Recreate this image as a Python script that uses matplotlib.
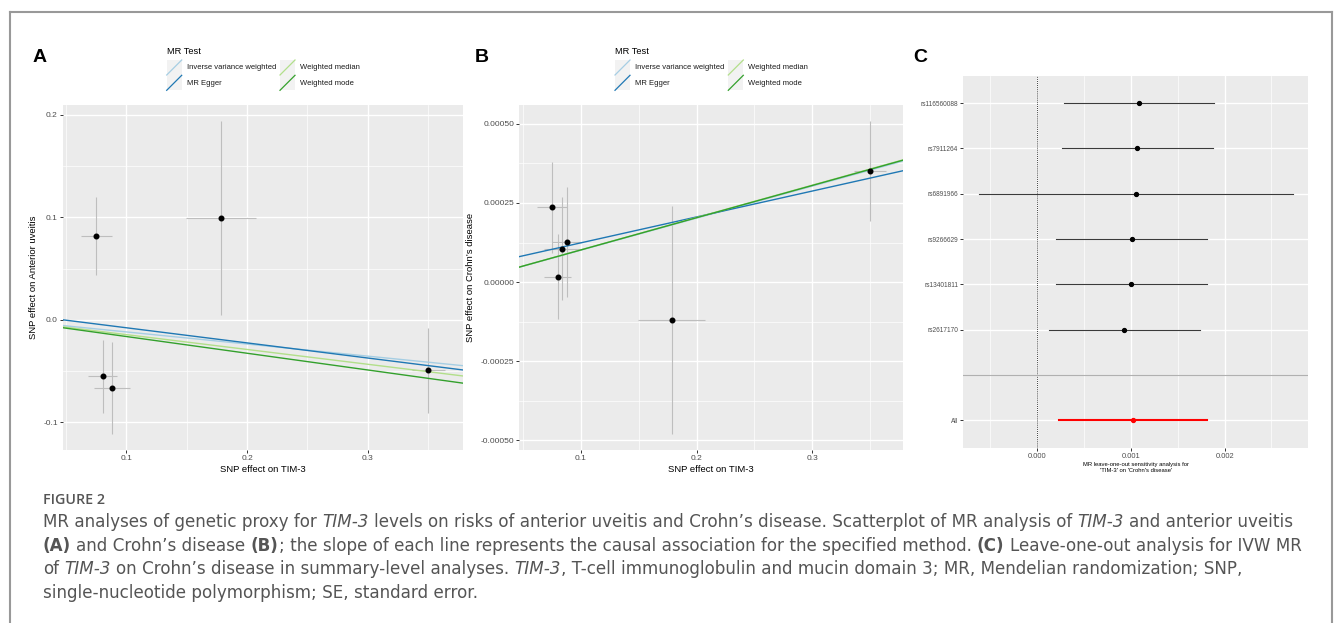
import numpy as np
import matplotlib
matplotlib.use('Agg')
import matplotlib.pyplot as plt
from matplotlib.lines import Line2D
from matplotlib.patches import Rectangle
from matplotlib.ticker import MultipleLocator

W, H = 1336, 623

# panel A: TIM-3 -> anterior uveitis
a_x = [0.0752, 0.1783, 0.0802, 0.0882, 0.3502]
a_x_se = [0.0127, 0.0292, 0.0117, 0.0149, 0.0138]
a_y = [0.0819, 0.0994, -0.0552, -0.0669, -0.0494]
a_y_se = [0.0382, 0.0949, 0.0357, 0.0448, 0.0418]

methods = ['Inverse variance weighted', 'MR Egger', 'Weighted median', 'Weighted mode']
method_colors = ['#A6CEE3', '#1F78B4', '#B2DF8A', '#33A02C']
a_intercepts = [0.0, 0.0070, 0.0, 0.0]
a_slopes = [-0.118, -0.1475, -0.1445, -0.163]

# panel B: TIM-3 -> Crohn's disease
b_x = [0.0747, 0.0833, 0.0879, 0.0799, 0.1784, 0.3501]
b_x_se = [0.0130, 0.0151, 0.0133, 0.0118, 0.0290, 0.0138]
b_y = [0.000236, 0.000106, 0.000127, 0.0000168, -0.000120, 0.000352]
b_y_se = [0.000145, 0.000162, 0.000173, 0.000135, 0.000361, 0.000158]
b_intercepts = [0.0, 0.0000424, 0.0, 0.0]
b_slopes = [0.00101, 0.000817, 0.00102, 0.001017]

# panel C: leave-one-out
c_labels = ['rs116560088', 'rs7911264', 'rs6891966', 'rs9266629', 'rs13401811', 'rs2617170', 'All']
c_b = [0.001089, 0.001067, 0.00105, 0.001007, 0.001, 0.000925, 0.001021]
c_lo = [0.000288, 0.00026, -0.000622, 0.000203, 0.000196, 0.000125, 0.000235]
c_hi = [0.001889, 0.001878, 0.002726, 0.001811, 0.001808, 0.001733, 0.001808]

plt.rcParams['font.family'] = ['Liberation Sans', 'DejaVu Sans']
plt.rcParams['axes.unicode_minus'] = False

fig = plt.figure(figsize=(W / 100, H / 100), dpi=100)
fig.patch.set_facecolor('white')


def fx(px):
    return px / W


def fy(py):
    return 1 - py / H


def px_axes(left, top, right, bottom):
    return fig.add_axes([fx(left), fy(bottom), (right - left) / W, (bottom - top) / H])


def gg_style(ax, labelsize=6.0):
    ax.set_facecolor('#EBEBEB')
    for s in ax.spines.values():
        s.set_visible(False)
    ax.set_axisbelow(True)
    ax.grid(which='major', color='white', lw=1.0)
    ax.grid(which='minor', color='white', lw=0.5)
    ax.tick_params(which='major', length=2.2, width=0.7, color='#333333',
                   labelcolor='#4D4D4D', labelsize=labelsize, pad=1.5)
    ax.tick_params(which='minor', length=0)


def scatter_panel(ax, x, xse, y, yse, intercepts, slopes):
    ax.errorbar(x, y, yerr=yse, fmt='none', ecolor='#BEBEBE', elinewidth=0.8, capsize=0)
    ax.errorbar(x, y, xerr=xse, fmt='none', ecolor='#BEBEBE', elinewidth=0.8, capsize=0)
    ax.plot(x, y, 'o', color='black', ms=3.3, zorder=3)
    ax.margins(0.05)
    ax.autoscale_view()
    xl, yl = ax.get_xlim(), ax.get_ylim()
    for b0, b1, c in zip(intercepts, slopes, method_colors):
        ax.axline((0, b0), slope=b1, color=c, lw=1.0, zorder=2)
    # abline must not widen the ranges (as in ggplot)
    ax.set_xlim(xl)
    ax.set_ylim(yl)
    ax.set_xlabel('SNP effect on TIM-3', fontsize=6.8, labelpad=2)


# ---- A ----
axA = px_axes(63, 105, 463, 450)
gg_style(axA)
scatter_panel(axA, a_x, a_x_se, a_y, a_y_se, a_intercepts, a_slopes)
axA.xaxis.set_major_locator(MultipleLocator(0.1))
axA.xaxis.set_minor_locator(MultipleLocator(0.05))
axA.yaxis.set_major_locator(MultipleLocator(0.1))
axA.yaxis.set_minor_locator(MultipleLocator(0.05))
axA.set_ylabel('SNP effect on Anterior uveitis', fontsize=6.8, labelpad=4)

# ---- B ----
axB = px_axes(519.3, 105, 903.3, 450)
gg_style(axB)
scatter_panel(axB, b_x, b_x_se, b_y, b_y_se, b_intercepts, b_slopes)
axB.xaxis.set_major_locator(MultipleLocator(0.1))
axB.xaxis.set_minor_locator(MultipleLocator(0.05))
axB.yaxis.set_major_locator(MultipleLocator(0.00025))
axB.yaxis.set_minor_locator(MultipleLocator(0.000125))
axB.yaxis.set_major_formatter(matplotlib.ticker.FuncFormatter(lambda v, p: '%.5f' % v))
axB.set_ylabel('SNP effect on Crohn\u2019s disease', fontsize=6.8, labelpad=4)

# ---- C ----
axC = px_axes(963.3, 76, 1308.3, 447.5)
gg_style(axC, labelsize=5.0)
order = ['All', ''] + c_labels[:-1][::-1]
pos = {lab: i + 1 for i, lab in enumerate(order)}
for lab, b, lo, hi in zip(c_labels, c_b, c_lo, c_hi):
    y = pos[lab]
    if lab == 'All':
        axC.plot([lo, hi], [y, y], color='red', lw=1.5, zorder=3)
        axC.plot([b], [y], 'o', color='red', ms=2.8, zorder=4)
    else:
        axC.plot([lo, hi], [y, y], color='#3A3A3A', lw=0.8, zorder=3)
        axC.plot([b], [y], 'o', color='black', ms=2.8, zorder=4)
axC.margins(x=0.05)
axC.autoscale_view()
axC.axvline(0, color='black', lw=0.6, ls=(0, (1, 1.5)), zorder=2)
axC.axhline(pos[''], color='#B0B0B0', lw=0.8, zorder=2)
axC.set_ylim(0.4, len(order) + 0.6)
tick_labs = [lab for lab in order if lab]
axC.set_yticks([pos[lab] for lab in tick_labs])
axC.set_yticklabels(tick_labs)
axC.xaxis.set_major_locator(MultipleLocator(0.001))
axC.xaxis.set_minor_locator(MultipleLocator(0.0005))
axC.xaxis.set_major_formatter(matplotlib.ticker.FuncFormatter(lambda v, p: '%.3f' % v))
axC.tick_params(axis='x', labelsize=5.4)
axC.tick_params(axis='y', labelsize=4.7)
axC.set_xlabel('MR leave-one-out sensitivity analysis for\n\'TIM-3\' on \'Crohn\'s disease\'',
               fontsize=4.2, labelpad=2, linespacing=1.1)


# ---- legends (ggplot style keys) ----
def draw_legend(x0):
    fig.text(fx(x0), fy(51.7), 'MR Test', fontsize=6.7, va='center', ha='left')
    for i, (m, c) in enumerate(zip(methods, method_colors)):
        col, row = divmod(i, 2)
        kx = x0 + col * 113.3
        ky = 60 + row * 15.3
        fig.add_artist(Rectangle((fx(kx), fy(ky + 15)), 15 / W, 15 / H,
                                 transform=fig.transFigure, facecolor='#F2F2F2',
                                 edgecolor='none'))
        fig.add_artist(Line2D([fx(kx), fx(kx + 15)], [fy(ky + 15), fy(ky)],
                              transform=fig.transFigure, color=c, lw=0.9))
        fig.text(fx(kx + 20), fy(ky + 7.8), m, fontsize=5.5, va='center', ha='left',
                 color='#1A1A1A')


draw_legend(166.7)
draw_legend(615)

# panel letters
for letter, x in [('A', 32.5), ('B', 475), ('C', 913.3)]:
    fig.text(fx(x), fy(62.3), letter, fontsize=14, fontweight='bold', va='baseline', ha='left')

# frame around figure
frame_kw = dict(transform=fig.transFigure, color='#999999', lw=1.5)
fig.add_artist(Line2D([fx(10), fx(1332)], [fy(12), fy(12)], **frame_kw))
fig.add_artist(Line2D([fx(10), fx(10)], [fy(12), 0], **frame_kw))
fig.add_artist(Line2D([fx(1332), fx(1332)], [fy(12), 0], **frame_kw))

# ---- caption ----
cap_font = ['DejaVu Sans']
cap_color = '#555555'
cap_size = 12.05
styles = {
    'n': dict(family=cap_font, fontsize=cap_size, color=cap_color),
    'i': dict(family=cap_font, fontsize=cap_size, color=cap_color, style='italic'),
    'b': dict(family=cap_font, fontsize=cap_size, color=cap_color, fontweight='bold'),
}
renderer = fig.canvas.get_renderer()


def text_w(s, st):
    t = fig.text(0, 0, s, **styles[st])
    w = t.get_window_extent(renderer).width
    t.remove()
    return w


space_w = {k: text_w('a a', k) - text_w('aa', k) for k in styles}

fig.text(fx(42.7), fy(504), 'FIGURE 2', family=['Open Sans', 'DejaVu Sans'], fontsize=10.3,
         fontweight='semibold', color=cap_color, va='baseline', ha='left')

caption_lines = [
    [('MR analyses of genetic proxy for ', 'n'), ('TIM-3', 'i'),
     (' levels on risks of anterior uveitis and Crohn\u2019s disease. Scatterplot of MR analysis of ', 'n'),
     ('TIM-3', 'i'), (' and anterior uveitis', 'n')],
    [('(A)', 'b'), (' and Crohn\u2019s disease ', 'n'), ('(B)', 'b'),
     ('; the slope of each line represents the causal association for the specified method. ', 'n'),
     ('(C)', 'b'), (' Leave-one-out analysis for IVW MR', 'n')],
    [('of ', 'n'), ('TIM-3', 'i'), (' on Crohn\u2019s disease in summary-level analyses. ', 'n'),
     ('TIM-3', 'i'), (', T-cell immunoglobulin and mucin domain 3; MR, Mendelian randomization; SNP,', 'n')],
    [('single-nucleotide polymorphism; SE, standard error.', 'n')],
]
baselines = [527.3, 550.9, 574.5, 598.1]

for runs, yb in zip(caption_lines, baselines):
    x = 42.7
    for s, st in runs:
        lead = len(s) - len(s.lstrip(' '))
        trail = len(s) - len(s.rstrip(' '))
        core = s.strip(' ')
        x += lead * space_w[st]
        t = fig.text(fx(x), fy(yb), core, va='baseline', ha='left', **styles[st])
        x += t.get_window_extent(renderer).width + trail * space_w[st]

fig.savefig('out.png', dpi=100, facecolor='white')
